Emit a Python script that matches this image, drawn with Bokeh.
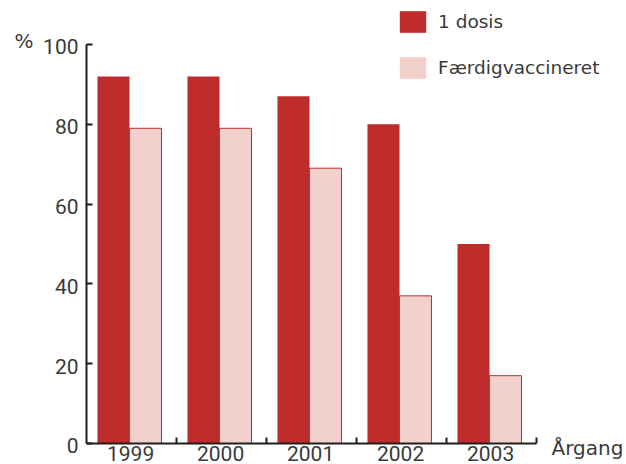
from bokeh.plotting import figure
from bokeh.models import (ColumnDataSource, Range1d, FixedTicker, Legend, LegendItem,
                          Label)
from bokeh.core.properties import value
from bokeh.embed import file_html
from bokeh.resources import INLINE

years = ["1999", "2000", "2001", "2002", "2003"]
dose1 = [92, 92, 87, 80, 50]
complete = [79, 79, 69, 37, 17]
yticks = [0, 20, 40, 60, 80, 100]

DARK = "#be2d2b"
LIGHT = "#f2d0cc"
TXT = "#3a3a3a"
AX = "#1e1e1e"
NUMFONT = "Roboto"
WORDFONT = "DejaVu Sans"

W, H = 626, 464
X0, Y0 = 86, 443          # pixel position of data origin
SX, SY = 90.0, 3.99       # pixels per data unit

idx = list(range(len(years)))
src = ColumnDataSource(dict(
    x1=[i + 0.30 for i in idx],
    x2=[i + 0.655 for i in idx],
    xc=[i + 0.49 for i in idx],
    d1=dose1, d2=complete, yr=years))

p = figure(width=W, height=H, output_backend="svg", toolbar_location=None,
           x_range=Range1d(-X0 / SX, (W - X0) / SX),
           y_range=Range1d(-(H - Y0) / SY, Y0 / SY),
           min_border=0, outline_line_color=None)
p.xgrid.visible = False
p.ygrid.visible = False

r1 = p.vbar(x="x1", top="d1", width=0.356, source=src, fill_color=DARK, line_color=None)
r2 = p.vbar(x="x2", top="d2", width=0.356, source=src, fill_color=LIGHT, line_color=None)
p.vbar(x="x2", top="d2", width=0.356, source=src, fill_color=None, line_color=DARK,
       line_width=1)

# axes: drawn at the data origin, tick marks only (labels are text glyphs)
xa = p.xaxis[0]
xa.fixed_location = 0
xa.bounds = (0, len(years))
xa.ticker = FixedTicker(ticks=[], minor_ticks=[i + 1 for i in idx])
xa.minor_tick_in = 6
xa.minor_tick_out = 0
xa.major_tick_in = 0
xa.major_tick_out = 0
xa.axis_line_width = 2
xa.axis_line_color = AX
xa.minor_tick_line_width = 2
xa.minor_tick_line_color = AX

ya = p.yaxis[0]
ya.fixed_location = 0
ya.bounds = (0, 100)
ya.ticker = FixedTicker(ticks=[], minor_ticks=yticks)
ya.minor_tick_in = 6
ya.minor_tick_out = 0
ya.major_tick_in = 0
ya.major_tick_out = 0
ya.minor_tick_line_width = 2
ya.minor_tick_line_color = AX
ya.axis_line_width = 2
ya.axis_line_color = AX

# tick labels
p.text(x=[-8 / SX] * len(yticks), y=[t - 0.6 for t in yticks],
       text=[str(t) for t in yticks],
       text_align="right", text_baseline="middle", text_font=value(NUMFONT),
       text_font_size="21px", text_color=TXT)
p.text(x="xc", y=-(453 - Y0) / SY, text="yr", source=src, text_align="center",
       text_baseline="middle", text_font=value(NUMFONT), text_font_size="21px",
       text_color=TXT)

p.add_layout(Label(x=(551 - X0) / SX, y=-(447 - Y0) / SY, text="Årgang",
                   text_font=WORDFONT, text_font_size="20px", text_color=TXT,
                   text_baseline="middle"))
p.add_layout(Label(x=(14 - X0) / SX, y=(Y0 - 40) / SY, text="%",
                   text_font=WORDFONT, text_font_size="20px", text_color=TXT,
                   text_baseline="middle"))

legend = Legend(items=[LegendItem(label="1 dosis", renderers=[r1]),
                       LegendItem(label="Færdigvaccineret", renderers=[r2])],
                location=(396, H - 8 - 73), padding=0, margin=0, spacing=19,
                glyph_width=33, glyph_height=27, label_standoff=9,
                label_text_font=WORDFONT, label_text_font_size="18.5px",
                label_text_color=TXT, border_line_color=None,
                background_fill_alpha=0)
p.add_layout(legend, "center")

open("out.html", "w").write(file_html(p, INLINE))
